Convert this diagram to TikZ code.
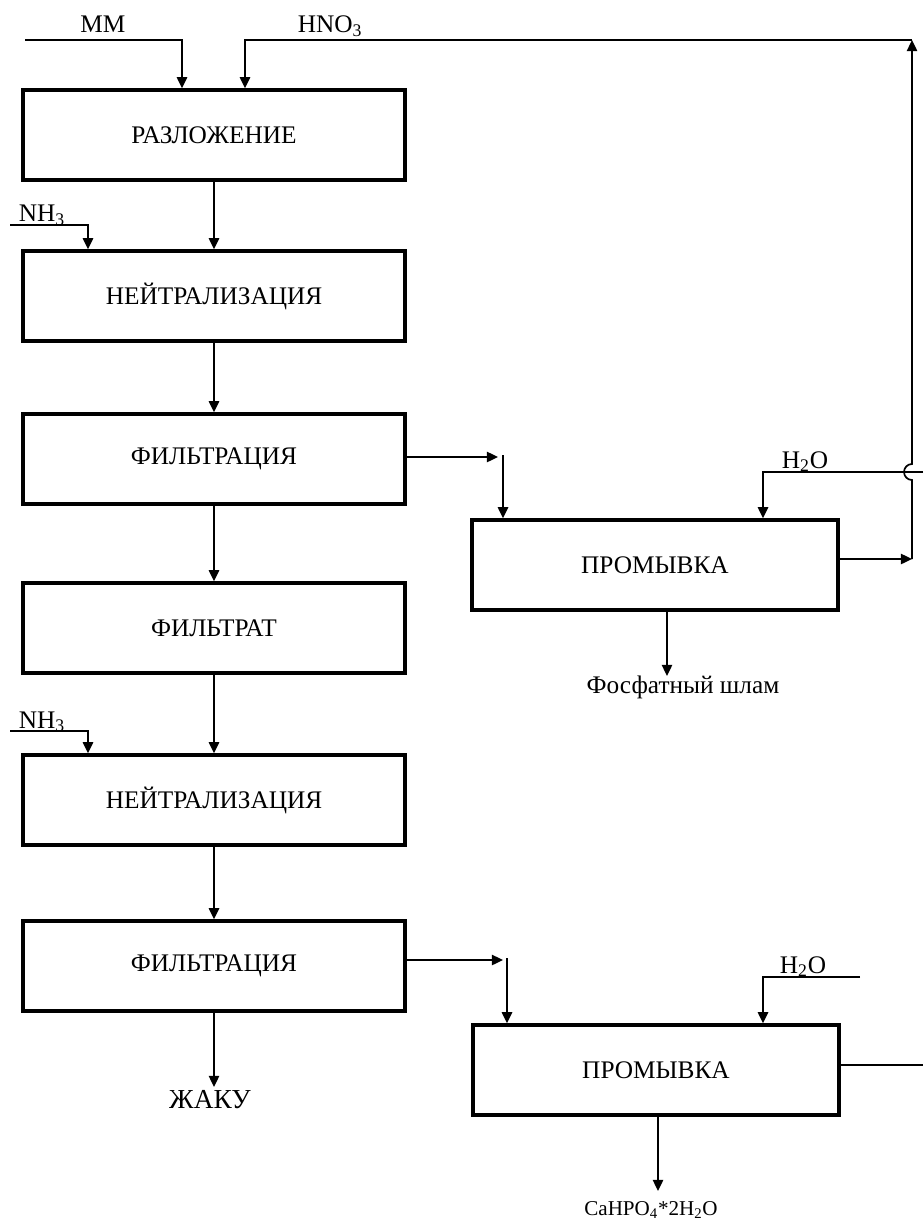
\documentclass[tikz,border=0pt]{standalone}
\usepackage{fontspec}
\setmainfont{Liberation Serif}
\usepackage{tikz}
\usetikzlibrary{arrows.meta, positioning, calc}

\begin{document}
\begin{tikzpicture}[x=0.025cm, y=-0.025cm,
  every node/.style={font=\fontsize{18}{21}\selectfont},
  proc/.style={draw, line width=2.4pt, minimum width=9.55cm, minimum height=2.25cm, inner sep=0pt},
  wash/.style={proc, minimum width=9.15cm},
  flow/.style={line width=1.2pt, -{Triangle[length=2.8mm, width=2.6mm]}},
  pipe/.style={line width=1.2pt},
  lbl/.style={anchor=base, inner sep=0pt}]
  \useasboundingbox (0,0) rectangle (923,1221);
  % main line
  \node[proc] (razl)  at (214,135) {РАЗЛОЖЕНИЕ};
  \node[proc] (neut1) at (214,296) {НЕЙТРАЛИЗАЦИЯ};
  \node[proc] (filt1) at (214,459) {ФИЛЬТРАЦИЯ};
  \node[proc] (fltr)  at (214,628) {ФИЛЬТРАТ};
  \node[proc] (neut2) at (214,800) {НЕЙТРАЛИЗАЦИЯ};
  \node[proc] (filt2) at (214,966) {ФИЛЬТРАЦИЯ};
  % washing units
  \node[wash] (prom1) at (655,565)  {ПРОМЫВКА};
  \node[wash] (prom2) at (656,1070) {ПРОМЫВКА};
  \draw[flow] (razl) -- (neut1);
  \draw[flow] (neut1) -- (filt1);
  \draw[flow] (filt1) -- (fltr);
  \draw[flow] (fltr) -- (neut2);
  \draw[flow] (neut2) -- (filt2);
  % MM and HNO3 feed
  \coordinate (mm0) at (25,40);  \coordinate (mm1) at (182,40);
  \node[lbl] (mmlbl) at (103,33) {MM};
  \draw[flow] (mm0) -- (mm1) -- (mm1 |- razl.north);
  \coordinate (hno) at (245,40); \coordinate (ret1) at (912,40);
  \node[lbl] (hnolbl) at (330,33) {HNO\textsubscript{3}};
  \draw[flow] (ret1) -- (hno) -- (hno |- razl.north);
  % NH3 feeds
  \coordinate (na0) at (10,225); \coordinate (na1) at (88,225);
  \node[lbl] (nalbl) at (42,222) {NH\textsubscript{3}};
  \draw[flow] (na0) -- (na1) -- (na1 |- neut1.north);
  \coordinate (nb0) at (10,731); \coordinate (nb1) at (88,731);
  \node[lbl] (nblbl) at (42,728) {NH\textsubscript{3}};
  \draw[flow] (nb0) -- (nb1) -- (nb1 |- neut2.north);
  % sludge to first washing
  \coordinate (ja) at (498,457); \coordinate (jb) at (503,455);
  \draw[flow] (filt1.east |- ja) -- (ja);
  \draw[flow] (jb) -- (jb |- prom1.north);
  % water to first washing
  \coordinate (wa0) at (923,472); \coordinate (wa1) at (763,472);
  \node[lbl] (walbl) at (805,468) {H\textsubscript{2}O};
  \draw[flow] (wa0) -- (wa1) -- (wa1 |- prom1.north);
  % wash liquor back to HNO3 line (hop over water line)
  \coordinate (ret0) at (912,559);
  \draw[flow] ([yshift=0.15cm]prom1.east) -- (ret0);
  \draw[flow] (ret0) -- (912,480) arc[start angle=-90, end angle=-270, radius=0.2cm] -- (ret1);
  % phosphate sludge
  \coordinate (sl) at (667,676);
  \draw[flow] (sl |- prom1.south) -- (sl);
  \node[lbl] (sllbl) at (683,693) {Фосфатный шлам};
  % second filtration
  \coordinate (jk) at (214,1087);
  \draw[flow] (filt2) -- (jk);
  \node[lbl, font=\fontsize{19.5}{22}\selectfont] (jklbl) at (210,1108) {ЖАКУ};
  \coordinate (jc) at (503,960); \coordinate (jd) at (507,958);
  \draw[flow] (filt2.east |- jc) -- (jc);
  \draw[flow] (jd) -- (jd |- prom2.north);
  % water to second washing
  \coordinate (wb0) at (860,977); \coordinate (wb1) at (763,977);
  \node[lbl] (wblbl) at (803,973) {H\textsubscript{2}O};
  \draw[flow] (wb0) -- (wb1) -- (wb1 |- prom2.north);
  \coordinate (wl) at (923,1065);
  \draw[pipe] (prom2.east |- wl) -- (wl);
  % product
  \coordinate (cp) at (658,1191);
  \draw[flow] (prom2.south -| cp) -- (cp);
  \node[lbl, font=\fontsize{15}{18}\selectfont] (cplbl) at (651,1215) {CaHPO\textsubscript{4}*2H\textsubscript{2}O};
\end{tikzpicture}
\end{document}
